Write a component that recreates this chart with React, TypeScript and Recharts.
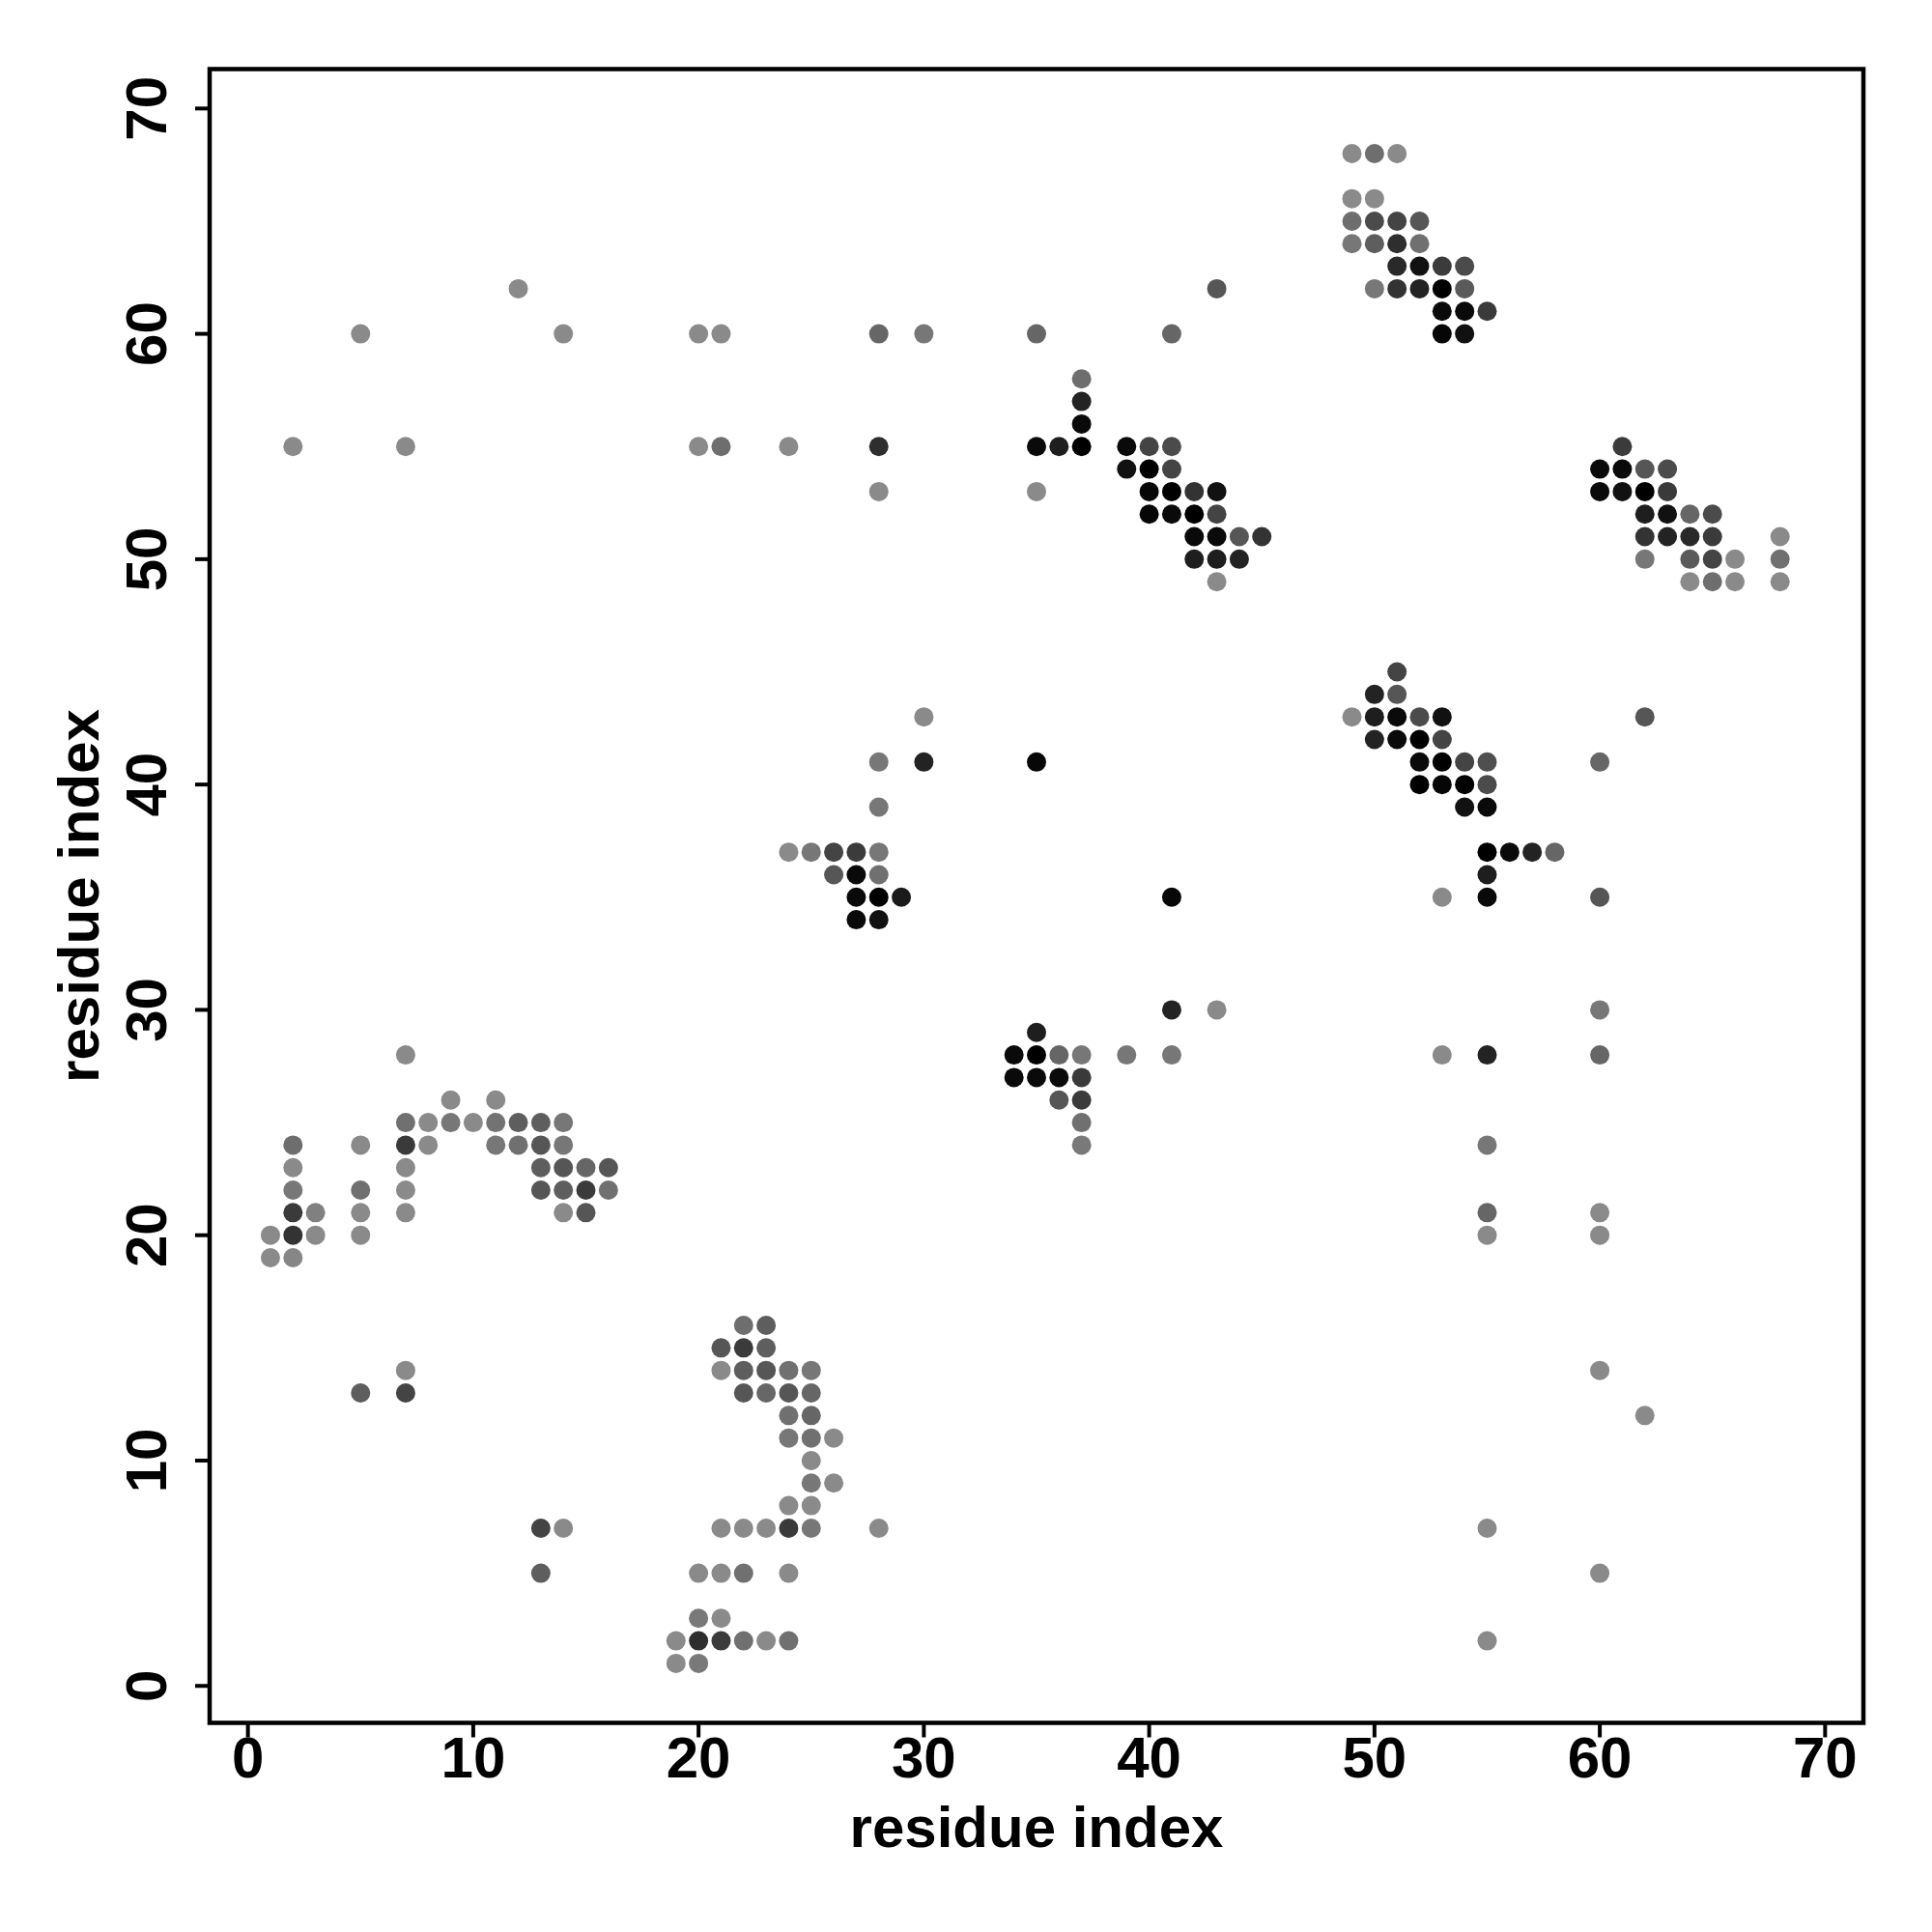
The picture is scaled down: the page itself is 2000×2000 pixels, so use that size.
import React from 'react';
import { ScatterChart, Scatter, XAxis, YAxis, ReferenceArea, Label } from 'recharts';

// [x residue, y residue, contact strength 0 (light) .. 1 (black)]
const helixA: number[][] = [
  [1,20,0],[1,19,0],
  [2,24,0.2],[2,23,0],[2,22,0.14],[2,21,0.58],[2,20,0.63],[2,19,0.03],
  [3,21,0.07],[3,20,0],
  [5,24,0],[5,22,0.19],[5,21,0],[5,20,0],
  [7,28,0],[7,25,0.19],[7,24,0.58],[7,23,0],[7,22,0],[7,21,0],
  [8,25,0],[8,24,0],
  [9,26,0],[9,25,0.14],
  [10,25,0],
  [11,26,0],[11,25,0.17],[11,24,0.14],
  [12,25,0.32],[12,24,0.19],
  [13,25,0.32],[13,24,0.38],[13,23,0.32],[13,22,0.38],
  [14,25,0.14],[14,24,0.14],[14,23,0.38],[14,22,0.32],[14,21,0],
  [15,23,0.26],[15,22,0.57],[15,21,0.38],
  [16,23,0.38],[16,22,0.19],
];

const lowSparse: number[][] = [
  [5,13,0.32],[7,14,0],[7,13,0.51],[13,7,0.51],[14,7,0],[13,5,0.32],
];

const clusterC: number[][] = [
  [22,16,0.2],[23,16,0.32],
  [21,15,0.38],[22,15,0.57],[23,15,0.32],
  [21,14,0],[22,14,0.32],[23,14,0.38],[24,14,0.19],[25,14,0.14],
  [22,13,0.38],[23,13,0.26],[24,13,0.38],[25,13,0.26],
  [24,12,0.19],[25,12,0.26],
  [24,11,0.14],[25,11,0.19],[26,11,0],
  [25,10,0],
  [25,9,0.14],[26,9,0],
  [24,8,0],[25,8,0],
  [21,7,0],[22,7,0],[23,7,0],[24,7,0.58],[25,7,0.14],[28,7,0],
  [20,5,0],[21,5,0],[22,5,0.19],[24,5,0],
  [20,3,0.12],[21,3,0],
  [19,2,0],[20,2,0.67],[21,2,0.57],[22,2,0.19],[23,2,0],[24,2,0.19],
  [19,1,0],[20,1,0.12],
];

const clusterD: number[][] = [
  [30,43,0],[28,41,0.14],[30,41,0.75],[28,39,0.14],
  [24,37,0],[25,37,0.14],[26,37,0.51],[27,37,0.57],[28,37,0.14],
  [26,36,0.38],[27,36,0.93],[28,36,0.19],
  [27,35,0.93],[28,35,1],[29,35,0.81],
  [27,34,0.93],[28,34,0.88],
];

const clusterE: number[][] = [
  [41,30,0.75],[43,30,0],[35,29,0.78],
  [34,28,0.93],[35,28,1],[36,28,0.26],[37,28,0.14],[39,28,0.14],[41,28,0.14],
  [34,27,0.93],[35,27,0.93],[36,27,0.93],[37,27,0.58],
  [36,26,0.38],[37,26,0.58],
  [37,25,0.19],[37,24,0.12],
  [35,41,0.95],[41,35,0.95],
];

const clusterF: number[][] = [
  [37,58,0.2],[37,57,0.75],[37,56,0.93],
  [35,55,0.93],[36,55,0.78],[37,55,1],[39,55,0.93],[40,55,0.51],[41,55,0.46],
  [39,54,0.88],[40,54,1],[41,54,0.51],
  [35,53,0],
  [40,53,0.96],[41,53,1],[42,53,0.63],[43,53,0.88],
  [40,52,0.96],[41,52,0.93],[42,52,1],[43,52,0.51],
  [42,51,0.93],[43,51,0.93],[44,51,0.38],[45,51,0.63],
  [42,50,0.78],[43,50,0.78],[44,50,0.75],
  [43,49,0],
];

const topSparse: number[][] = [
  [12,62,0],[5,60,0],[14,60,0],[20,60,0],[21,60,0],[28,60,0.26],[30,60,0.14],
  [2,55,0],[7,55,0],[20,55,0],[21,55,0.2],[24,55,0],[28,55,0.67],[28,53,0],
  [35,60,0.26],[41,60,0.26],[43,62,0.38],
];

const clusterG: number[][] = [
  [51,45,0.51],
  [50,44,0.75],[51,44,0.38],
  [49,43,0],[50,43,0.78],[51,43,0.93],[52,43,0.46],[53,43,0.88],
  [50,42,0.75],[51,42,0.93],[52,42,1],[53,42,0.51],
  [52,41,0.93],[53,41,1],[54,41,0.51],[55,41,0.43],
  [52,40,1],[53,40,0.96],[54,40,1],[55,40,0.46],
  [54,39,0.88],[55,39,0.93],
  [55,37,1],[56,37,0.93],[57,37,0.75],[58,37,0.26],
  [55,36,0.78],
  [53,35,0],[55,35,0.93],
];

const clusterH: number[][] = [
  [49,68,0],[50,68,0.2],[51,68,0],
  [49,66,0],[50,66,0],
  [49,65,0.2],[50,65,0.46],[51,65,0.51],[52,65,0.38],
  [49,64,0.14],[50,64,0.32],[51,64,0.67],[52,64,0.19],
  [51,63,0.7],[52,63,0.88],[53,63,0.57],[54,63,0.46],
  [50,62,0.14],[51,62,0.63],[52,62,0.75],[53,62,1],[54,62,0.35],
  [53,61,0.93],[54,61,0.93],[55,61,0.58],
  [53,60,0.96],[54,60,0.88],
];

const clusterI: number[][] = [
  [61,55,0.57],
  [60,54,0.93],[61,54,0.93],[62,54,0.38],[63,54,0.46],
  [60,53,0.93],[61,53,0.88],[62,53,1],[63,53,0.58],
  [62,52,0.78],[63,52,0.88],[64,52,0.26],[65,52,0.46],
  [62,51,0.63],[63,51,0.75],[64,51,0.7],[65,51,0.57],[68,51,0],
  [62,50,0.14],[64,50,0.35],[65,50,0.51],[66,50,0],[68,50,0.19],
  [64,49,0],[65,49,0.2],[66,49,0],[68,49,0],
];

const rightSparse: number[][] = [
  [62,43,0.38],[60,41,0.26],[60,35,0.38],
  [60,30,0.14],[53,28,0],[55,28,0.75],[60,28,0.26],
  [55,24,0.14],[55,21,0.26],[55,20,0],[60,21,0],[60,20,0],
  [60,14,0],[62,12,0],[55,7,0],[60,5,0],[55,2,0],
];

const tickValues = [0, 10, 20, 30, 40, 50, 60, 70];
const xTitle = 'residue index';
const yTitle = 'residue index';

const allPoints = [
  ...helixA, ...lowSparse, ...clusterC, ...clusterD, ...clusterE,
  ...clusterF, ...topSparse, ...clusterG, ...clusterH, ...clusterI, ...rightSparse,
].map(([x, y, s]) => ({ x, y, s }));

const FONT = '"Liberation Sans", Arial, Helvetica, sans-serif';
const X_DOMAIN: [number, number] = [-1.7, 71.7];
const Y_DOMAIN: [number, number] = [-1.64, 71.75];

const grayOf = (s: number) => {
  const g = Math.round(138 * (1 - s));
  return `rgb(${g},${g},${g})`;
};

const Dot = (props: any) => {
  const { cx, cy, payload } = props;
  if (cx == null || cy == null) return null;
  return <circle cx={cx} cy={cy} r={10} fill={grayOf(payload.s)} />;
};

const XTick = (props: any) => {
  const { x, y, payload } = props;
  return (
    <text x={x} y={y + 41} textAnchor="middle" fontFamily={FONT} fontWeight="bold" fontSize={60} fill="#000">
      {payload.value}
    </text>
  );
};

const YTick = (props: any) => {
  const { x, y, payload } = props;
  const bx = x - 30;
  return (
    <text x={bx} y={y} transform={`rotate(-90 ${bx} ${y})`} textAnchor="middle" fontFamily={FONT} fontWeight="bold" fontSize={60} fill="#000">
      {payload.value}
    </text>
  );
};

export default function App() {
  return (
    <div style={{ width: 1984, height: 1984, background: '#fff' }}>
      <ScatterChart width={1984} height={1984} margin={{ top: 63.5, right: 63, bottom: 58.5, left: 0 }}>
        <XAxis
          type="number"
          dataKey="x"
          domain={X_DOMAIN}
          ticks={tickValues}
          allowDataOverflow
          axisLine={false}
          tickLine={{ stroke: '#000', strokeWidth: 4 }}
          tickSize={15}
          tickMargin={0}
          height={150}
          tick={<XTick />}
          interval={0}
        >
          <Label
            content={() => (
              <text x={1065} y={1904} textAnchor="middle" fontFamily={FONT} fontWeight="bold" fontSize={60} fill="#000">
                {xTitle}
              </text>
            )}
          />
        </XAxis>
        <YAxis
          type="number"
          dataKey="y"
          domain={Y_DOMAIN}
          ticks={tickValues}
          allowDataOverflow
          axisLine={false}
          tickLine={{ stroke: '#000', strokeWidth: 4 }}
          tickSize={15}
          tickMargin={0}
          width={209}
          tick={<YTick />}
          interval={0}
        >
          <Label
            content={() => (
              <text x={94} y={919.5} transform="rotate(-90 94 919.5)" textAnchor="middle" fontFamily={FONT} fontWeight="bold" fontSize={60} fill="#000">
                {yTitle}
              </text>
            )}
          />
        </YAxis>
        <ReferenceArea
          x1={X_DOMAIN[0]}
          x2={X_DOMAIN[1]}
          y1={Y_DOMAIN[0]}
          y2={Y_DOMAIN[1]}
          fill="none"
          fillOpacity={0}
          stroke="#000"
          strokeWidth={4.5}
          ifOverflow="visible"
        />
        <Scatter data={allPoints} isAnimationActive={false} shape={<Dot />} />
      </ScatterChart>
    </div>
  );
}
